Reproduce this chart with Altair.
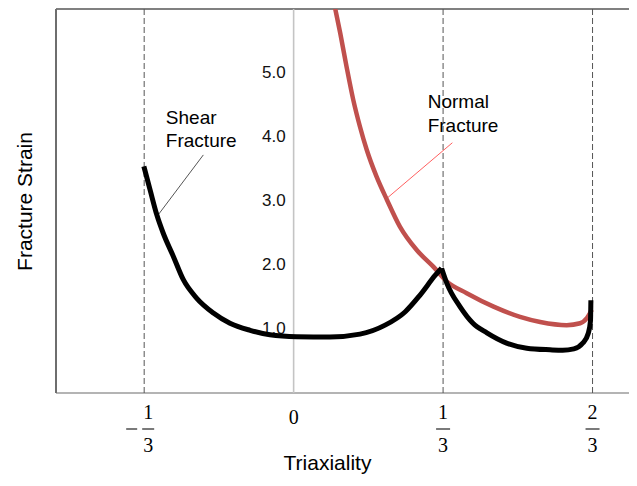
import altair as alt
import pandas as pd

# ---- data ----
# shear fracture locus, split at the cusp (x = 1/3) into two branches
shear_left_x = [-0.334, -0.320, -0.305, -0.291, -0.268, -0.246, -0.216, -0.179, -0.142, -0.097,
                -0.053, 0.007, 0.081, 0.148, 0.204, 0.249, 0.282, 0.316, 0.330]
shear_left_y = [3.54, 3.17, 2.78, 2.50, 2.13, 1.77, 1.48, 1.25, 1.09, 0.98,
                0.91, 0.88, 0.875, 0.92, 1.06, 1.27, 1.53, 1.84, 1.95]
shear_right_x = [0.330, 0.342, 0.371, 0.400, 0.431, 0.475, 0.520, 0.572, 0.600, 0.625,
                 0.645, 0.657, 0.662, 0.663]
shear_right_y = [1.95, 1.71, 1.35, 1.09, 0.94, 0.78, 0.70, 0.675, 0.668, 0.69,
                 0.78, 0.93, 1.12, 1.45]

normal_x = [0.092, 0.104, 0.118, 0.133, 0.148, 0.163, 0.185, 0.208, 0.237, 0.275,
            0.312, 0.342, 0.386, 0.446, 0.505, 0.550, 0.609, 0.639, 0.654, 0.665]
normal_y = [6.03, 5.62, 5.10, 4.58, 4.16, 3.80, 3.38, 3.02, 2.60, 2.23,
            1.97, 1.74, 1.56, 1.35, 1.19, 1.11, 1.06, 1.09, 1.17, 1.30]

y_ticks = [1.0, 2.0, 3.0, 4.0, 5.0]
y_labels = ["1.0", "2.0", "3.0", "4.0", "5.0"]

guide_x = [-1 / 3, 1 / 3, 2 / 3]
frac_x = [1 / 3, 2 / 3]
frac_num = ["1", "2"]
frac_den = ["3", "3"]
neg_x = [-1 / 3]
neg_num = ["1"]
neg_den = ["3"]
zero_x = [0.0]
zero_label = ["0"]

shear_text = ["Shear", "Fracture"]
shear_text_x = [-0.285, -0.285]
shear_text_y = [4.29, 3.93]
normal_text = ["Normal", "Fracture"]
normal_text_x = [0.299, 0.299]
normal_text_y = [4.55, 4.17]

shear_leader_x = [-0.3025, -0.2014]
shear_leader_y = [2.78, 3.72]
normal_leader_x = [0.206, 0.354]
normal_leader_y = [3.03, 3.91]

X_DOMAIN = [-0.53, 0.748]
Y_DOMAIN = [0.0, 6.0]

# ---- tables ----
shear = pd.concat([
    pd.DataFrame({"x": shear_left_x, "y": shear_left_y, "seg": "a",
                  "i": range(len(shear_left_x))}),
    pd.DataFrame({"x": shear_right_x, "y": shear_right_y, "seg": "b",
                  "i": range(len(shear_right_x))}),
], ignore_index=True)
normal = pd.DataFrame({"x": normal_x, "y": normal_y, "i": range(len(normal_x))})
yt = pd.DataFrame({"x": [0.0] * len(y_ticks), "y": y_ticks, "label": y_labels})
guides = pd.DataFrame({"x": guide_x})
fr = pd.DataFrame({"x": frac_x, "num": frac_num, "den": frac_den})
neg = pd.DataFrame({"x": neg_x, "num": neg_num, "den": neg_den})
zero = pd.DataFrame({"x": zero_x, "label": zero_label})
left_edge = pd.DataFrame({"x": [X_DOMAIN[0]]})
top_edge = pd.DataFrame({"y": [Y_DOMAIN[1]]})
bottom_edge = pd.DataFrame({"y": [Y_DOMAIN[0]]})
st = pd.DataFrame({"x": shear_text_x, "y": shear_text_y, "t": shear_text})
nt = pd.DataFrame({"x": normal_text_x, "y": normal_text_y, "t": normal_text})
sl = pd.DataFrame({"x": shear_leader_x, "y": shear_leader_y})
nl = pd.DataFrame({"x": normal_leader_x, "y": normal_leader_y})

xs = alt.Scale(domain=X_DOMAIN, nice=False, zero=False)
ys = alt.Scale(domain=Y_DOMAIN, nice=False, zero=False)


def X(f="x"):
    return alt.X(f"{f}:Q", scale=xs, title="Triaxiality")


def Y(f="y"):
    return alt.Y(f"{f}:Q", scale=ys, title="Fracture Strain")


SANS = "Liberation Sans"
SERIF = "Liberation Serif"

layers = [
    alt.Chart(bottom_edge).mark_rule(color="#b4b4b4", strokeWidth=2).encode(y=Y()),
    alt.Chart(top_edge).mark_rule(color="#808080", strokeWidth=2).encode(y=Y()),
    alt.Chart(left_edge).mark_rule(color="#6e6e6e", strokeWidth=2).encode(x=X()),
    alt.Chart(zero).mark_rule(color="#c4c4c4", strokeWidth=1.6).encode(x=X()),
    alt.Chart(guides).mark_rule(color="#555555", strokeWidth=1, strokeDash=[6, 3]).encode(x=X()),
    alt.Chart(yt).mark_text(font=SANS, fontSize=17, align="right", baseline="middle",
                            dx=-8, color="#111111").encode(x=X(), y=Y(), text="label:N"),
    alt.Chart(sl).mark_line(color="#555555", strokeWidth=1).encode(x=X(), y=Y()),
    alt.Chart(nl).mark_line(color="#ff6060", strokeWidth=1).encode(x=X(), y=Y()),
    alt.Chart(normal).mark_line(color="#c0504d", strokeWidth=4.5, clip=True,
                                interpolate="monotone", strokeJoin="round").encode(
        x=X(), y=Y(), order="i:Q"),
    alt.Chart(shear).mark_line(color="#000000", strokeWidth=5, clip=True,
                               interpolate="monotone", strokeJoin="miter").encode(
        x=X(), y=Y(), detail="seg:N", order="i:Q"),
    alt.Chart(st).mark_text(font=SANS, fontSize=19, align="left", baseline="middle",
                            color="#000000").encode(x=X(), y=Y(), text="t:N"),
    alt.Chart(nt).mark_text(font=SANS, fontSize=19, align="left", baseline="middle",
                            color="#000000").encode(x=X(), y=Y(), text="t:N"),
    # x tick labels as fractions
    alt.Chart(fr).mark_text(font=SERIF, fontSize=20, align="center", baseline="middle",
                            color="#000000").encode(x=X(), y=alt.value(404), text="num:N"),
    alt.Chart(fr).mark_text(font=SERIF, fontSize=20, align="center", baseline="middle",
                            color="#000000").encode(x=X(), y=alt.value(437), text="den:N"),
    alt.Chart(fr).mark_rule(color="#222222", strokeWidth=1.2, xOffset=-7, x2Offset=7).encode(
        x=X(), x2="x:Q", y=alt.value(420)),
    alt.Chart(neg).mark_text(font=SERIF, fontSize=20, align="center", baseline="middle",
                             dx=4, color="#000000").encode(x=X(), y=alt.value(404), text="num:N"),
    alt.Chart(neg).mark_text(font=SERIF, fontSize=20, align="center", baseline="middle",
                             dx=4, color="#000000").encode(x=X(), y=alt.value(437), text="den:N"),
    alt.Chart(neg).mark_rule(color="#222222", strokeWidth=1.2, xOffset=-2, x2Offset=10).encode(
        x=X(), x2="x:Q", y=alt.value(420)),
    alt.Chart(neg).mark_rule(color="#222222", strokeWidth=1.2, xOffset=-18, x2Offset=-7).encode(
        x=X(), x2="x:Q", y=alt.value(420)),
    alt.Chart(zero).mark_text(font=SERIF, fontSize=20, align="center", baseline="middle",
                              color="#000000").encode(x=X(), y=alt.value(409), text="label:N"),
]

chart = (
    alt.layer(*layers)
    .properties(
        width=573,
        height=384,
        padding={"left": 48, "top": 1, "right": 0, "bottom": 81},
        autosize=alt.AutoSizeParams(type="none"),
        background="white",
    )
    .configure_view(strokeWidth=0)
    .configure_axisX(
        labels=False, ticks=False, domain=False, grid=False,
        titleFont=SANS, titleFontSize=21, titleFontWeight="normal", titleColor="#000000",
        titleX=271, titleY=70, titleBaseline="middle", titleAlign="center",
    )
    .configure_axisY(
        labels=False, ticks=False, domain=False, grid=False,
        titleFont=SANS, titleFontSize=21, titleFontWeight="normal", titleColor="#000000",
        titleX=-31, titleY=192, titleBaseline="middle", titleAlign="center",
    )
)

chart.save("out.html", embed_options={"renderer": "svg", "actions": False})
